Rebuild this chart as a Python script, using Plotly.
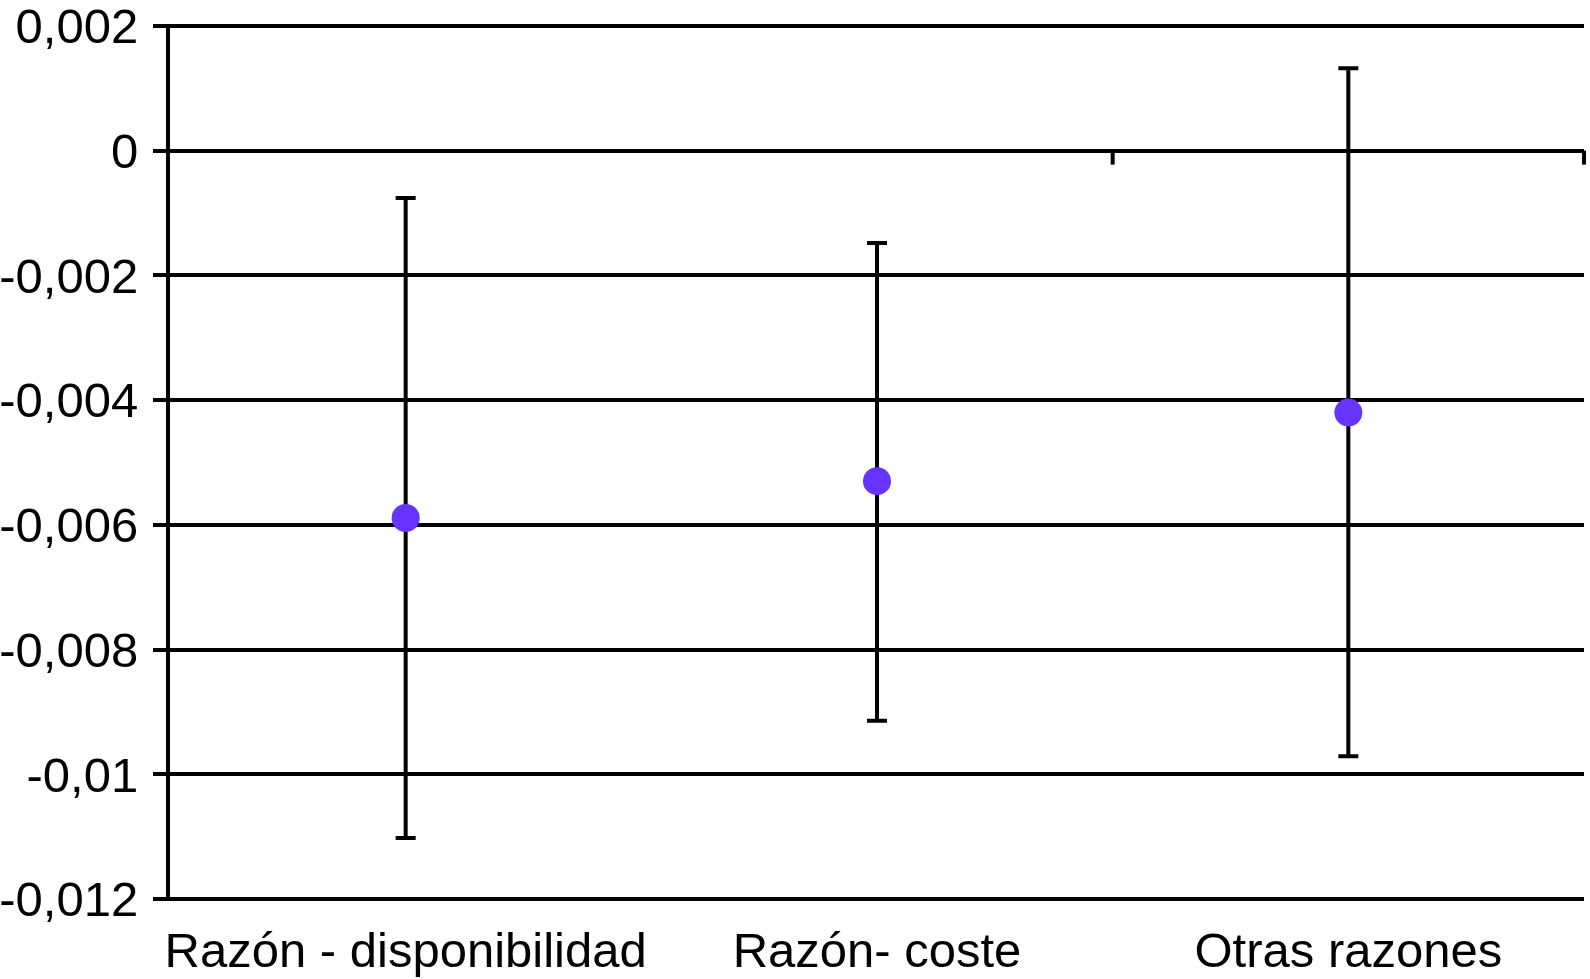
import plotly.graph_objects as go

categories = ["Razón - disponibilidad", "Razón- coste", "Otras razones"]
estimates = [-0.00589, -0.00530, -0.00420]
ci_lower = [-0.01102, -0.00914, -0.00971]
ci_upper = [-0.00076, -0.00148, 0.00132]
y_tickvals = [0.002, 0, -0.002, -0.004, -0.006, -0.008, -0.01, -0.012]
y_ticktext = ["0,002", "0", "-0,002", "-0,004", "-0,006", "-0,008", "-0,01", "-0,012"]

x_pos = list(range(len(categories)))
err_plus = [u - e for u, e in zip(ci_upper, estimates)]
err_minus = [e - l for e, l in zip(estimates, ci_lower)]

FONT = "Liberation Sans, Arial, Helvetica, sans-serif"
FS = 49
LW = 4

fig = go.Figure()
fig.add_trace(go.Scatter(
    x=x_pos, y=estimates, mode="markers",
    marker=dict(size=28, color="#6633ff", line=dict(width=0)),
    error_y=dict(type="data", symmetric=False, array=err_plus, arrayminus=err_minus,
                 color="black", thickness=LW, width=10),
    showlegend=False,
))

# category-boundary tick marks on the zero line (as in the original)
n = len(categories)
for xb in [2 / n, 3 / n]:
    fig.add_shape(type="line", xref="paper", yref="y", x0=xb, x1=xb,
                  ysizemode="pixel", yanchor=0, y0=0, y1=-14,
                  line=dict(color="black", width=LW))

fig.update_layout(
    width=1590, height=979,
    margin=dict(l=170, r=6, t=24, b=78),
    paper_bgcolor="white", plot_bgcolor="white",
    font=dict(family=FONT, size=FS, color="black"),
    showlegend=False,
)
fig.update_xaxes(
    range=[-0.5, n - 0.5], automargin=False,
    tickvals=x_pos, ticktext=categories,
    showgrid=False, zeroline=False, showline=False,
    ticks="", ticklabelstandoff=16, ticklabeloverflow="allow",
    tickfont=dict(family=FONT, size=FS, color="black"),
)
fig.update_yaxes(
    range=[-0.01203, 0.00203], automargin=False,
    tickvals=y_tickvals, ticktext=y_ticktext,
    showgrid=True, gridcolor="black", gridwidth=LW,
    zeroline=True, zerolinecolor="black", zerolinewidth=LW,
    showline=True, linecolor="black", linewidth=LW,
    ticks="outside", ticklen=13, tickwidth=LW, tickcolor="black",
    ticklabelstandoff=5, ticklabeloverflow="allow",
    tickfont=dict(family=FONT, size=FS, color="black"),
)

fig.write_html("out.html", config={"displayModeBar": False},
               post_script="document.body.style.margin='0';document.body.style.overflow='hidden';")
